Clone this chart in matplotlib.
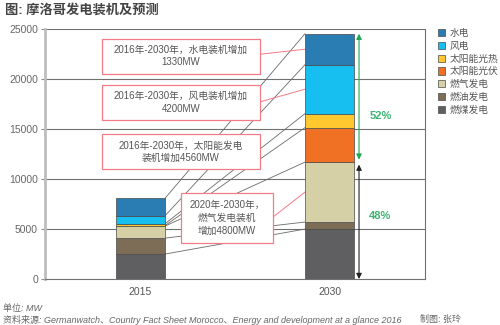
import numpy as np
import matplotlib
matplotlib.use('Agg')
import matplotlib.pyplot as plt
from matplotlib.patches import Rectangle

plt.rcParams['font.family'] = ['Liberation Sans', 'Noto Sans CJK SC']

# Installed capacity, MW (stacked bottom to top)
years = ['2015', '2030']
sources = ['燃煤发电', '燃油发电', '燃气发电', '太阳能光伏', '太阳能光热', '风电', '水电']
coal = [2500, 5000]
oil = [1600, 700]
gas = [1200, 6000]
solar_pv = [50, 3450]
solar_thermal = [180, 1400]
wind = [800, 4900]
hydro = [1750, 3100]
colors = ['#5f5f62', '#7d6c56', '#d5d0a5', '#f07123', '#fec82e', '#17bef0', '#2a7db3']

notes = ['2016年-2030年，水电装机增加\n1330MW',
         '2016年-2030年，风电装机增加\n4200MW',
         '2016年-2030年，太阳能发电\n装机增加4560MW',
         '2020年-2030年，\n燃气发电装机\n增加4800MW']

series = np.array([coal, oil, gas, solar_pv, solar_thermal, wind, hydro])
tops = np.cumsum(series, axis=0)
bottoms = tops - series
x = np.arange(len(years))
w = 0.26

fig = plt.figure(figsize=(5, 3.25), dpi=100)
ax = fig.add_axes([0.09, 0.1415, 0.76, 0.7685])

bars = []
for i, name in enumerate(sources):
    b = ax.bar(x, series[i], w, bottom=bottoms[i], color=colors[i],
               edgecolor='#4a4a4a', linewidth=0.5, label=name, zorder=3)
    bars.append(b)

# series lines between the two stacks
for i in range(len(sources)):
    ax.plot([x[0] + w / 2, x[1] - w / 2], [tops[i, 0], tops[i, 1]],
            color='#6a6a6a', lw=0.6, zorder=2)

ax.set_xlim(-0.505, 1.505)
ax.set_ylim(0, 25000)
ax.set_yticks(np.arange(0, 25001, 5000))
ax.set_xticks(x)
ax.set_xticklabels(years)
for y in range(5000, 25001, 5000):
    ax.axhline(y, color='#707070', lw=0.8, zorder=1)
ax.tick_params(axis='y', colors='#8a8a8a', labelcolor='#666666', labelsize=7.5,
               length=3, width=0.8, pad=2)
ax.tick_params(axis='x', length=0, labelsize=7.5, labelcolor='#555555', pad=6)
ax.spines['left'].set_color('#bdbdbd')
ax.spines['left'].set_linewidth(2)
ax.spines['right'].set_color('#707070')
ax.spines['right'].set_linewidth(0.8)
ax.spines['bottom'].set_color('#707070')
ax.spines['bottom'].set_linewidth(0.8)
ax.spines['top'].set_visible(False)

# annotation boxes: (x0, x1, y0, y1, anchor y on box, segment index or None)
red = '#f27b86'
boxes = [(-0.205, 0.632, 20570, 24070, 22500, 6),
         (-0.205, 0.632, 15900, 19400, 17730, 5),
         (-0.205, 0.632, 10970, 14470, None, None),
         (0.213, 0.703, 3630, 8630, 6230, 2)]
for (x0, x1, y0, y1, ya, seg), txt in zip(boxes, notes):
    ax.add_patch(Rectangle((x0, y0), x1 - x0, y1 - y0, facecolor='white',
                           edgecolor=red, lw=0.9, zorder=4))
    ax.text((x0 + x1) / 2, (y0 + y1) / 2, txt, ha='center', va='center',
            fontsize=7, color='#555555', linespacing=1.35, zorder=5)
    if seg is not None:
        ymid = bottoms[seg, 1] + series[seg, 1] / 2
        ax.plot([x1, x[1] - w / 2], [ya, ymid], color=red, lw=0.7, zorder=2)

# share arrows for the 2030 stack
total = tops[-1, 1]
fossil = tops[2, 1]
ax_x = 1.156
green = '#1fa855'
ax.annotate('', xy=(ax_x, total), xytext=(ax_x, fossil + 250),
            arrowprops=dict(arrowstyle='<|-|>', color=green, lw=0.8,
                            mutation_scale=8, shrinkA=0, shrinkB=0), zorder=5)
ax.annotate('', xy=(ax_x, fossil - 250), xytext=(ax_x, 0),
            arrowprops=dict(arrowstyle='<|-|>', color='#222222', lw=0.8,
                            mutation_scale=8, shrinkA=0, shrinkB=0), zorder=5)
ax.text(1.21, 16300, f'{(total - fossil) / total:.0%}', color='#3cb371',
        fontsize=8, fontweight='bold', va='center')
ax.text(1.21, 6300, f'{fossil / total:.0%}', color='#3cb371',
        fontsize=8, fontweight='bold', va='center')

handles = [b[0] for b in bars][::-1]
fig.legend(handles, sources[::-1], loc='upper left', bbox_to_anchor=(0.876, 0.915),
           frameon=False, fontsize=7, handlelength=0.75, handleheight=0.75,
           handletextpad=0.4, labelspacing=0.3, borderaxespad=0, borderpad=0,
           labelcolor='#555555')

fig.text(0.01, 0.968, '图: 摩洛哥发电装机及预测', fontsize=9.5, fontweight='bold',
         color='#444444', va='center')
fig.text(0.006, 0.05, '单位: MW', fontsize=6.5, style='italic', color='#666666', va='center')
fig.text(0.006, 0.016, '资料来源: Germanwatch、Country Fact Sheet Morocco、'
         'Energy and development at a glance 2016', fontsize=6.5, style='italic',
         color='#666666', va='center')
fig.text(0.84, 0.016, '制图: 张玲', fontsize=6.5, color='#666666', va='center')

fig.savefig('out.png', dpi=100)
